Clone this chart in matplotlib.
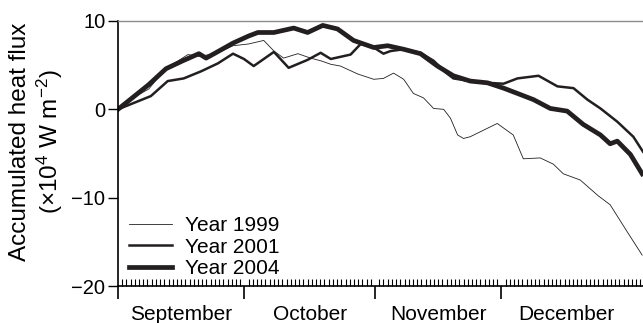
import matplotlib.pyplot as plt
import matplotlib.transforms as mtransforms

plt.rcParams['font.family'] = ['Liberation Sans', 'DejaVu Sans']
plt.rcParams['mathtext.fontset'] = 'custom'
plt.rcParams['mathtext.rm'] = 'Liberation Sans'
plt.rcParams['mathtext.default'] = 'regular'

# days since 1 September, accumulated heat flux (x10^4 W m-2)
days_1999 = [0, 4.3, 7.3, 10.2, 13.0, 16.6, 19.2, 23.2, 27.3, 31.0, 34.6, 37.0, 39.3, 42.7,
             45.7, 48.1, 50.5, 52.8, 56.9, 60.7, 63.0, 65.4, 67.8, 70.1, 72.5, 74.9, 77.3,
             78.9, 80.6, 82.0, 83.6, 90.0, 93.8, 96.2, 100.2, 103.3, 105.7, 109.7, 114.0,
             116.8, 120.9, 124.4]
flux_1999 = [0, 1.5, 2.3, 4.0, 5.1, 6.2, 6.0, 6.3, 7.2, 7.4, 7.8, 6.6, 5.8, 6.3,
             5.8, 5.5, 5.1, 4.9, 4.0, 3.4, 3.5, 4.1, 3.4, 1.8, 1.3, 0.1, 0.0,
             -1.0, -2.9, -3.3, -3.1, -1.6, -2.9, -5.6, -5.5, -6.2, -7.3, -8.0, -9.8,
             -10.8, -13.9, -16.5]

days_2001 = [0, 7.8, 11.8, 15.6, 19.7, 23.7, 27.3, 29.9, 32.2, 37.0, 40.5, 45.0, 48.1, 50.5,
             55.2, 57.6, 60.7, 63.0, 64.7, 67.8, 71.8, 74.9, 77.7, 79.6, 83.6, 87.7, 91.5,
             94.8, 99.8, 104.3, 108.1, 111.4, 114.5, 118.5, 122.3, 124.6]
flux_2001 = [0, 1.5, 3.2, 3.5, 4.3, 5.2, 6.3, 5.7, 4.9, 6.5, 4.7, 5.6, 6.4, 5.7,
             6.2, 7.4, 7.0, 6.3, 6.6, 6.8, 6.4, 5.5, 4.2, 3.5, 3.2, 3.0, 2.9,
             3.5, 3.8, 2.6, 2.4, 1.1, 0.1, -1.4, -3.1, -4.8]

days_2004 = [0, 7.3, 11.4, 15.4, 19.2, 20.9, 23.2, 27.3, 31.0, 33.2, 37.0, 41.7, 45.0, 48.6,
             52.1, 55.9, 60.7, 64.0, 67.8, 71.8, 75.8, 79.6, 83.6, 87.7, 91.5, 94.8, 98.6,
             102.6, 106.6, 110.4, 114.5, 116.8, 118.5, 121.6, 124.4]
flux_2004 = [0, 2.8, 4.6, 5.5, 6.3, 5.8, 6.4, 7.5, 8.3, 8.7, 8.7, 9.2, 8.7, 9.5,
             9.1, 7.8, 7.0, 7.2, 6.8, 6.3, 4.9, 3.8, 3.2, 3.0, 2.4, 1.8, 1.1,
             0.1, -0.2, -1.7, -2.9, -3.9, -3.6, -5.1, -7.3]

month_starts = [0, 30, 61, 91]
month_mids = [15, 45.5, 76, 106.5]
month_names = ['September', 'October', 'November', 'December']

fig = plt.figure(figsize=(6.43, 3.23), dpi=100)
ax = fig.add_axes([118 / 643, 1 - 286 / 323, 525 / 643, 265 / 323])

ax.plot(days_1999, flux_1999, color='#231f20', lw=0.6, label='Year 1999')
ax.plot(days_2001, flux_2001, color='#231f20', lw=1.8, label='Year 2001')
ax.plot(days_2004, flux_2004, color='#231f20', lw=3.4, label='Year 2004')

ax.set_xlim(0, 124.6)
ax.set_ylim(-20, 10)
ax.set_yticks([-20, -10, 0, 10])
ax.tick_params(axis='y', direction='out', length=7, width=1, labelsize=14.5, pad=2)

ax.set_xticks(month_starts)
ax.set_xticklabels([])
ax.set_xticks(range(0, 125), minor=True)
ax.tick_params(axis='x', which='major', direction='out', length=9, width=1.2)
ax.tick_params(axis='x', which='minor', direction='in', length=5, width=0.8)

trans = mtransforms.blended_transform_factory(ax.transData, ax.transAxes)
for m, name in zip(month_mids, month_names):
    ax.text(m, -0.07, name, transform=trans, ha='center', va='top', fontsize=15)

ax.spines['right'].set_visible(False)
ax.spines['top'].set_color('#8c8c8c')
ax.spines['top'].set_linewidth(1.0)
ax.spines['left'].set_linewidth(1.2)
ax.spines['bottom'].set_linewidth(1.2)

ax.legend(loc='lower left', bbox_to_anchor=(0.02, 0.03), frameon=False, fontsize=15,
          handlelength=2.1, handletextpad=0.6, labelspacing=0.12, borderpad=0,
          borderaxespad=0)

fig.text(37 / 643, 1 - 142 / 323, 'Accumulated heat flux\n(×10$^{4}$ W m$^{−2}$)',
         rotation=90, ha='center', va='center', fontsize=17.5, linespacing=1.15)

fig.savefig('out.png', dpi=100)
